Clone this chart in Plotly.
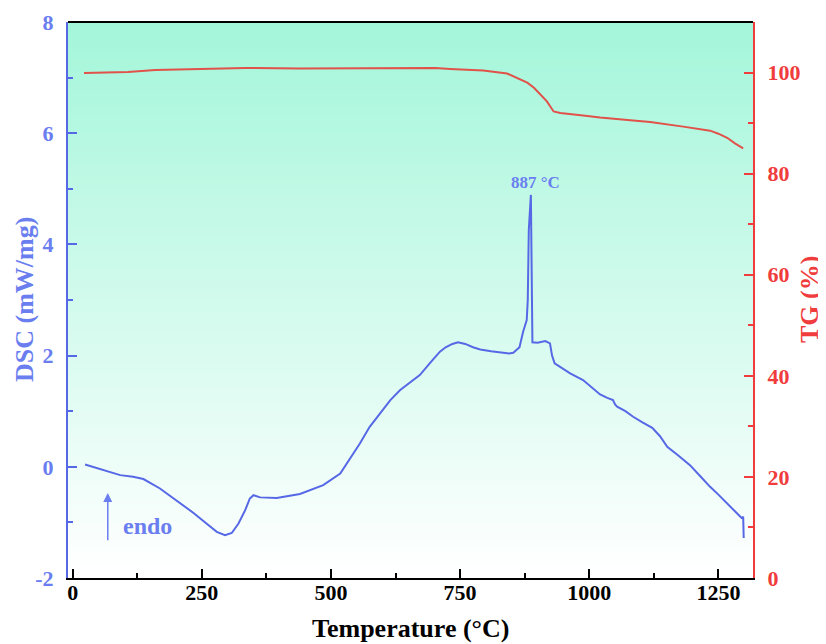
import plotly.graph_objects as go

# DSC curve (blue), temperature in °C, DSC in mW/mg
dsc_temp = [24, 59, 92, 117, 137, 169, 201, 234, 259, 279, 295, 308, 321, 334, 343, 350,
            363, 395, 440, 485, 518, 537, 556, 575, 595, 615, 634, 655, 672, 692, 711, 722,
            735, 746, 760, 775, 789, 810, 827, 845, 853, 865, 872, 879, 881, 882, 883, 887,
            888, 889, 890, 900, 915, 924, 928, 933, 950, 963, 988, 1005, 1021, 1035, 1046,
            1050, 1054, 1070, 1085, 1103, 1122, 1137, 1151, 1173, 1195, 1215, 1234, 1250,
            1267, 1282, 1295, 1298, 1299]
dsc_val = [0.04, -0.06, -0.15, -0.18, -0.22, -0.39, -0.6, -0.83, -1.02, -1.17, -1.23, -1.19,
           -1.02, -0.78, -0.57, -0.51, -0.55, -0.56, -0.49, -0.33, -0.12, 0.15, 0.42, 0.72,
           0.97, 1.2, 1.38, 1.53, 1.65, 1.87, 2.07, 2.15, 2.21, 2.24, 2.21, 2.15, 2.11, 2.08,
           2.06, 2.04, 2.05, 2.15, 2.43, 2.64, 3.0, 3.6, 4.26, 4.89, 4.2, 2.9, 2.24, 2.23,
           2.26, 2.22, 2.0, 1.86, 1.75, 1.68, 1.56, 1.42, 1.3, 1.24, 1.2, 1.12, 1.08, 1.0,
           0.9, 0.8, 0.7, 0.55, 0.36, 0.2, 0.03, -0.17, -0.36, -0.5, -0.65, -0.8, -0.92,
           -0.9, -1.28]

# TG curve (red), mass in %
tg_temp = [22, 107, 160, 224, 334, 440, 634, 702, 731, 760, 795, 841, 860, 880, 893, 905,
           918, 931, 944, 988, 1021, 1085, 1118, 1182, 1234, 1250, 1267, 1282, 1298]
tg_val = [99.9, 100.1, 100.5, 100.7, 100.9, 100.8, 100.8, 100.9, 100.7, 100.6, 100.4, 99.8,
          99.0, 98.0, 97.0, 95.8, 94.3, 92.3, 92.0, 91.5, 91.1, 90.5, 90.2, 89.3, 88.5,
          87.9, 87.1, 86.0, 85.0]

x_ticks = [0, 250, 500, 750, 1000, 1250]
dsc_ticks = [-2, 0, 2, 4, 6, 8]
dsc_tick_text = ["-2", "0", "2", "4", "6", "8"]
tg_ticks = [0, 20, 40, 60, 80, 100]

BLUE = "#5668e6"
BLUE_TXT = "#6b7ef0"
RED = "#f03c3c"
RED_LINE = "#e0524a"
FONT = "Liberation Serif"

fig = go.Figure()
fig.add_trace(go.Scatter(x=dsc_temp, y=dsc_val, mode="lines", yaxis="y",
                         line=dict(color=BLUE, width=2), showlegend=False))
fig.add_trace(go.Scatter(x=tg_temp, y=tg_val, mode="lines", yaxis="y2",
                         line=dict(color=RED_LINE, width=2), showlegend=False))

# vertical gradient background: aqua at top fading to white at bottom
shapes = []
n = 90
top = (164, 246, 218)
bot = (255, 255, 255)
for i in range(n):
    f = i / (n - 1)
    c = tuple(round(top[k] + (bot[k] - top[k]) * f) for k in range(3))
    shapes.append(dict(type="rect", xref="paper", yref="paper", x0=0, x1=1,
                       y1=1 - i / n, y0=1 - (i + 1) / n - 0.002,
                       fillcolor="rgb(%d,%d,%d)" % c, line=dict(width=0), layer="below"))
shapes.append(dict(type="line", xref="paper", yref="paper", x0=0, x1=1, y0=1, y1=1,
                   line=dict(color="black", width=2), layer="above"))

fig.update_layout(
    width=818, height=636,
    margin=dict(l=60, r=73, t=14, b=66),
    paper_bgcolor="white", plot_bgcolor="white",
    shapes=shapes,
    font=dict(family=FONT, weight="bold"),
    xaxis=dict(range=[-9, 1317], tickvals=x_ticks, ticks="inside", ticklen=9, tickwidth=2,
               tickcolor="black", showline=True, linecolor="black", linewidth=2,
               showgrid=False, zeroline=False, automargin=False, ticklabelstandoff=-6,
               minor=dict(dtick=125, tick0=0, ticks="inside", ticklen=5, tickwidth=2, tickcolor="black"),
               tickfont=dict(family=FONT, size=22, color="black", weight="bold")),
    yaxis=dict(range=[-2, 8], tickvals=dsc_ticks, ticktext=dsc_tick_text, ticks="inside",
               ticklen=9, tickwidth=2,
               tickcolor=BLUE, showline=True, linecolor=BLUE, linewidth=2, showgrid=False,
               zeroline=False, automargin=False, ticklabelstandoff=8,
               minor=dict(dtick=1, tick0=0, ticks="inside", ticklen=5, tickwidth=2, tickcolor=BLUE),
               tickfont=dict(family=FONT, size=22, color=BLUE_TXT, weight="bold")),
    yaxis2=dict(range=[0, 110], tickvals=tg_ticks, overlaying="y", side="right", ticks="inside",
                ticklen=9, tickwidth=2, tickcolor=RED, showline=True, linecolor=RED, linewidth=2,
                showgrid=False, zeroline=False, automargin=False, ticklabelstandoff=8,
                minor=dict(dtick=10, tick0=0, ticks="inside", ticklen=5, tickwidth=2, tickcolor=RED),
                tickfont=dict(family=FONT, size=22, color=RED, weight="bold")),
    annotations=[
        dict(x=0.5, y=0, xref="paper", yref="paper", yshift=-50, text="Temperature (°C)",
             showarrow=False, xanchor="center", yanchor="middle",
             font=dict(family=FONT, size=26, color="black", weight="bold")),
        dict(x=0, y=0.5, xref="paper", yref="paper", xshift=-44, text="DSC (mW/mg)",
             showarrow=False, xanchor="center", yanchor="middle", textangle=-90,
             font=dict(family=FONT, size=26, color=BLUE_TXT, weight="bold")),
        dict(x=1, y=0.5, xref="paper", yref="paper", xshift=56, text="TG (%)",
             showarrow=False, xanchor="center", yanchor="middle", textangle=-90,
             font=dict(family=FONT, size=26, color=RED, weight="bold")),
        dict(x=887, y=4.89, xref="x", yref="y", text="887 °C", showarrow=False, yanchor="bottom",
             yshift=1, xshift=5, font=dict(family=FONT, size=17, color=BLUE_TXT, weight="bold")),
        dict(x=145, y=-1.06, xref="x", yref="y", text="endo", showarrow=False,
             font=dict(family=FONT, size=24, color=BLUE_TXT, weight="bold")),
        dict(x=68, y=-0.47, ax=68, ay=-1.35, xref="x", yref="y", axref="x", ayref="y", text="",
             showarrow=True, arrowhead=2, arrowsize=1.2, arrowwidth=1.5, arrowcolor=BLUE_TXT),
    ],
)

fig.write_html("out.html")
